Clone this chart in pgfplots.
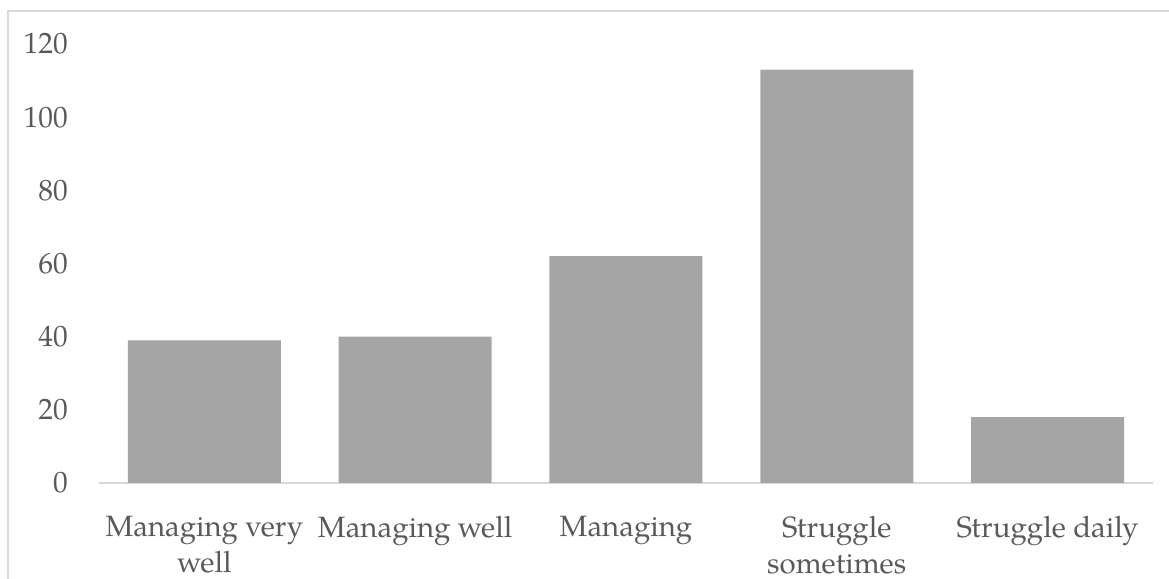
\documentclass[border=0pt]{standalone}
\usepackage{pgfplots}
\pgfplotsset{compat=1.18}
\usepackage{fontspec}
\setmainfont{TeX Gyre Pagella}

\definecolor{barfill}{HTML}{A5A5A5}
\definecolor{labelgray}{HTML}{595959}
\definecolor{linegray}{HTML}{D9D9D9}

\pgfplotstableread{
x value
0 39
1 40
2 62
3 113
4 18
}\responses

\begin{document}
\begin{tikzpicture}
\useasboundingbox (0,0) rectangle (1169bp,579bp);
% chart frame (top and left edges visible)
\begin{scope}
  \clip (0,0) rectangle (1169bp,579bp);
  \draw[linegray, line width=1.6bp] (8bp,-20bp) -- (8bp,568bp) -- (1200bp,568bp);
\end{scope}
\begin{axis}[
  at={(99bp,96bp)}, anchor=south west,
  scale only axis,
  width=1054bp, height=439bp,
  xmin=-0.5, xmax=4.5,
  ymin=0, ymax=120,
  ytick={0,20,...,120},
  xtick=data,
  xticklabels={Managing very\\well, Managing well, Managing, Struggle\\sometimes, Struggle daily},
  axis x line=bottom,
  axis y line=left,
  x axis line style={linegray, line width=1.6bp, -},
  y axis line style={draw=none},
  major tick length=0pt,
  /pgf/number format/assume math mode=true,
  tick label style={font=\fontsize{29.5}{36}\selectfont, text=labelgray, inner sep=0pt},
  yticklabel style={anchor=east, xshift=-31bp},
  xticklabel style={anchor=north, align=center, yshift=-33bp},
  clip=false,
]
\addplot[ybar, bar width=153bp, fill=barfill, draw=none] table[x=x, y=value] {\responses};
\end{axis}
\end{tikzpicture}
\end{document}
